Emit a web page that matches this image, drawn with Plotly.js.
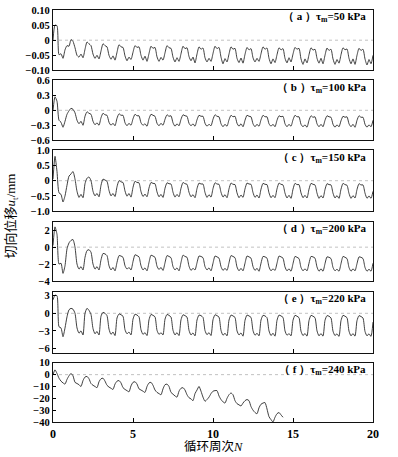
<!DOCTYPE html>
<html><head><meta charset="utf-8">
<script src="https://cdn.plot.ly/plotly-3.0.1.min.js"></script>
<style>html,body{margin:0;padding:0;background:#fff}#chart{width:398px;height:457px}</style>
</head><body><div id="chart"></div>
<script>
const sampleStep = 0.125;

// (a) tau_m = 50 kPa
const ua = [
 0.000, 0.050, 0.048, -0.048, -0.045, -0.060, -0.032, -0.018,
 -0.020, 0.002, -0.004, -0.025, -0.050, -0.056, -0.046, -0.058,
 -0.030, -0.006, -0.012, -0.018, -0.046, -0.060, -0.050, -0.062,
 -0.036, -0.012, -0.018, -0.022, -0.050, -0.063, -0.052, -0.066,
 -0.040, -0.015, -0.022, -0.024, -0.052, -0.068, -0.056, -0.064,
 -0.040, -0.018, -0.024, -0.022, -0.050, -0.066, -0.053, -0.070,
 -0.044, -0.020, -0.027, -0.024, -0.055, -0.070, -0.057, -0.066,
 -0.042, -0.018, -0.025, -0.027, -0.056, -0.072, -0.058, -0.070,
 -0.045, -0.020, -0.028, -0.025, -0.054, -0.068, -0.056, -0.075,
 -0.046, -0.022, -0.030, -0.026, -0.058, -0.072, -0.060, -0.070,
 -0.044, -0.020, -0.028, -0.024, -0.056, -0.078, -0.061, -0.072,
 -0.046, -0.022, -0.030, -0.027, -0.060, -0.074, -0.059, -0.076,
 -0.047, -0.024, -0.032, -0.028, -0.058, -0.072, -0.060, -0.070,
 -0.045, -0.022, -0.030, -0.026, -0.060, -0.078, -0.062, -0.074,
 -0.048, -0.025, -0.032, -0.028, -0.060, -0.075, -0.058, -0.072,
 -0.046, -0.024, -0.030, -0.027, -0.062, -0.080, -0.062, -0.075,
 -0.048, -0.025, -0.033, -0.030, -0.060, -0.076, -0.060, -0.078,
 -0.050, -0.026, -0.034, -0.030, -0.062, -0.080, -0.064, -0.076,
 -0.048, -0.025, -0.032, -0.029, -0.060, -0.078, -0.062, -0.080,
 -0.050, -0.027, -0.034, -0.030, -0.062, -0.082, -0.064, -0.078,
 -0.050
];

// (b) tau_m = 100 kPa
const ub = [
 0.00, 0.27, 0.18, -0.20, -0.24, -0.34, -0.22, -0.08,
 -0.01, 0.04, 0.02, -0.05, -0.20, -0.27, -0.22, -0.30,
 -0.12, -0.03, -0.06, -0.08, -0.22, -0.29, -0.25, -0.30,
 -0.15, -0.06, -0.09, -0.10, -0.24, -0.30, -0.26, -0.31,
 -0.16, -0.07, -0.10, -0.10, -0.25, -0.31, -0.26, -0.30,
 -0.17, -0.08, -0.11, -0.11, -0.25, -0.30, -0.27, -0.32,
 -0.17, -0.08, -0.10, -0.12, -0.26, -0.31, -0.26, -0.30,
 -0.18, -0.09, -0.12, -0.11, -0.25, -0.32, -0.27, -0.31,
 -0.18, -0.09, -0.11, -0.12, -0.26, -0.31, -0.27, -0.32,
 -0.19, -0.10, -0.12, -0.12, -0.26, -0.32, -0.28, -0.31,
 -0.18, -0.09, -0.12, -0.13, -0.27, -0.33, -0.28, -0.32,
 -0.19, -0.10, -0.13, -0.12, -0.26, -0.32, -0.27, -0.33,
 -0.20, -0.10, -0.12, -0.13, -0.27, -0.33, -0.28, -0.32,
 -0.19, -0.10, -0.13, -0.13, -0.27, -0.32, -0.28, -0.33,
 -0.20, -0.11, -0.13, -0.12, -0.27, -0.33, -0.28, -0.32,
 -0.19, -0.10, -0.13, -0.13, -0.28, -0.33, -0.29, -0.34,
 -0.20, -0.11, -0.14, -0.13, -0.27, -0.33, -0.28, -0.33,
 -0.20, -0.11, -0.13, -0.14, -0.28, -0.34, -0.29, -0.33,
 -0.21, -0.12, -0.14, -0.13, -0.27, -0.33, -0.28, -0.34,
 -0.20, -0.11, -0.14, -0.14, -0.28, -0.34, -0.29, -0.33,
 -0.20
];

// (c) tau_m = 150 kPa
const uc = [
 0.05, 0.80, 0.30, -0.40, -0.45, -0.70, -0.50, -0.15,
 0.15, 0.22, 0.30, 0.05, -0.35, -0.55, -0.45, -0.56,
 -0.10, 0.08, 0.12, 0.00, -0.35, -0.50, -0.42, -0.53,
 -0.15, 0.05, 0.02, -0.02, -0.32, -0.50, -0.42, -0.52,
 -0.20, 0.00, -0.04, -0.06, -0.34, -0.51, -0.42, -0.54,
 -0.22, -0.02, -0.06, -0.07, -0.36, -0.52, -0.44, -0.53,
 -0.24, -0.06, -0.09, -0.10, -0.37, -0.53, -0.45, -0.55,
 -0.25, -0.07, -0.10, -0.11, -0.38, -0.54, -0.45, -0.53,
 -0.25, -0.06, -0.10, -0.12, -0.38, -0.53, -0.46, -0.56,
 -0.26, -0.08, -0.11, -0.11, -0.39, -0.55, -0.46, -0.54,
 -0.26, -0.07, -0.11, -0.12, -0.38, -0.54, -0.46, -0.56,
 -0.27, -0.08, -0.12, -0.13, -0.40, -0.56, -0.47, -0.55,
 -0.27, -0.08, -0.11, -0.12, -0.39, -0.55, -0.47, -0.57,
 -0.28, -0.09, -0.12, -0.13, -0.40, -0.56, -0.48, -0.56,
 -0.27, -0.08, -0.12, -0.14, -0.41, -0.57, -0.48, -0.58,
 -0.28, -0.09, -0.13, -0.13, -0.40, -0.56, -0.48, -0.57,
 -0.28, -0.09, -0.12, -0.14, -0.41, -0.58, -0.49, -0.57,
 -0.29, -0.10, -0.13, -0.14, -0.41, -0.57, -0.49, -0.58,
 -0.28, -0.09, -0.13, -0.15, -0.42, -0.58, -0.49, -0.57,
 -0.29, -0.10, -0.14, -0.14, -0.41, -0.58, -0.50, -0.58,
 -0.35
];

// (d) tau_m = 200 kPa
const ud = [
 0.20, 2.40, 1.50, -2.00, -1.90, -3.10, -2.20, -0.20,
 0.50, 0.80, 0.90, 0.00, -2.00, -2.60, -2.30, -2.70,
 -1.20, -0.40, -0.30, -0.60, -2.00, -2.60, -2.30, -2.70,
 -1.50, -0.75, -0.80, -1.00, -2.20, -2.70, -2.40, -2.80,
 -1.80, -1.00, -1.05, -1.20, -2.20, -2.60, -2.40, -2.70,
 -1.70, -0.90, -1.00, -1.15, -2.20, -2.70, -2.45, -2.80,
 -1.80, -0.95, -1.05, -1.20, -2.25, -2.65, -2.40, -2.75,
 -1.85, -1.00, -1.10, -1.25, -2.30, -2.70, -2.45, -2.80,
 -1.80, -0.95, -1.10, -1.20, -2.25, -2.75, -2.50, -2.70,
 -1.85, -1.05, -1.10, -1.25, -2.30, -2.70, -2.45, -2.80,
 -1.90, -1.05, -1.15, -1.30, -2.30, -2.75, -2.50, -2.75,
 -1.85, -1.00, -1.10, -1.25, -2.35, -2.80, -2.50, -2.80,
 -1.90, -1.05, -1.15, -1.30, -2.30, -2.75, -2.50, -2.85,
 -1.90, -1.10, -1.15, -1.30, -2.35, -2.80, -2.55, -2.75,
 -1.90, -1.05, -1.15, -1.30, -2.35, -2.80, -2.55, -2.85,
 -1.95, -1.10, -1.20, -1.35, -2.40, -2.80, -2.55, -2.80,
 -1.90, -1.10, -1.15, -1.30, -2.35, -2.85, -2.55, -2.85,
 -1.95, -1.15, -1.20, -1.35, -2.40, -2.80, -2.60, -2.85,
 -1.95, -1.10, -1.20, -1.35, -2.40, -2.85, -2.55, -2.80,
 -1.95, -1.15, -1.20, -1.35, -2.40, -2.85, -2.60, -2.85,
 -1.90
];

// (e) tau_m = 220 kPa
const ue = [
 2.30, 3.10, 3.00, -2.30, -2.50, -4.00, -2.50, -0.60,
 0.60, 0.85, 0.70, 0.00, -2.50, -3.40, -3.00, -3.70,
 0.00, 0.85, 0.50, -0.20, -2.60, -3.50, -3.10, -3.70,
 -0.50, 0.17, 0.00, -0.40, -2.70, -3.60, -3.20, -3.80,
 -0.80, -0.10, -0.25, -0.50, -2.80, -3.50, -3.20, -3.70,
 -1.00, -0.15, -0.30, -0.60, -2.80, -3.60, -3.30, -3.80,
 -1.10, -0.20, -0.35, -0.60, -2.90, -3.60, -3.30, -3.70,
 -1.00, -0.20, -0.35, -0.65, -2.90, -3.70, -3.30, -3.80,
 -1.10, -0.25, -0.40, -0.65, -2.90, -3.70, -3.35, -3.85,
 -1.15, -0.30, -0.40, -0.70, -2.95, -3.65, -3.30, -3.80,
 -1.10, -0.25, -0.40, -0.65, -2.90, -3.75, -3.40, -3.85,
 -1.15, -0.30, -0.45, -0.70, -3.00, -3.70, -3.35, -3.90,
 -1.20, -0.30, -0.45, -0.70, -2.95, -3.75, -3.40, -3.85,
 -1.15, -0.35, -0.45, -0.75, -3.00, -3.80, -3.40, -3.90,
 -1.20, -0.30, -0.45, -0.70, -3.00, -3.75, -3.45, -3.85,
 -1.20, -0.35, -0.50, -0.75, -3.05, -3.80, -3.45, -3.90,
 -1.25, -0.35, -0.50, -0.75, -3.00, -3.85, -3.45, -3.90,
 -1.20, -0.40, -0.50, -0.80, -3.05, -3.80, -3.50, -3.95,
 -1.25, -0.35, -0.50, -0.75, -3.05, -3.85, -3.45, -3.90,
 -1.25, -0.40, -0.55, -0.80, -3.10, -3.85, -3.50, -3.95,
 -1.50
];

// (f) tau_m = 240 kPa (test ends near N = 14.4)
const uf = [
 0.0, 4.0, 1.0, -3.0, -5.5, -7.0, -8.0, -4.0,
 -1.0, 1.0, -1.0, -6.5, -7.5, -8.5, -10.0, -5.0,
 -2.0, -1.5, -3.5, -7.5, -9.0, -10.0, -11.0, -6.0,
 -3.5, -3.0, -5.5, -9.0, -10.5, -11.5, -12.5, -8.0,
 -5.5, -5.0, -7.0, -11.0, -12.5, -13.5, -14.5, -9.5,
 -6.5, -6.0, -8.0, -12.0, -13.0, -14.0, -15.0, -10.0,
 -7.0, -6.5, -9.0, -13.0, -15.0, -16.0, -17.0, -12.0,
 -8.5, -8.0, -10.0, -15.0, -16.5, -18.0, -19.0, -14.0,
 -11.5, -11.0, -13.0, -17.0, -19.5, -20.5, -22.0, -16.0,
 -13.0, -10.0, -14.0, -19.0, -22.5, -21.0, -19.0, -16.0,
 -14.0, -13.5, -13.5, -18.0, -21.0, -23.0, -24.0, -20.0,
 -17.0, -15.5, -17.0, -22.0, -24.5, -25.5, -26.5, -24.0,
 -22.0, -21.0, -22.0, -27.0, -30.0, -32.0, -33.0, -28.0,
 -25.0, -24.0, -23.6, -29.0, -35.5, -38.0, -40.0, -36.0,
 -33.0, -32.0, -34.0, -36.0
];

const series = [ua, ub, uc, ud, ue, uf];
const panelLabels = [
 '（ a ）τ<sub>m</sub>=50 kPa',
 '（ b ）τ<sub>m</sub>=100 kPa',
 '（ c ）τ<sub>m</sub>=150 kPa',
 '（ d ）τ<sub>m</sub>=200 kPa',
 '（ e ）τ<sub>m</sub>=220 kPa',
 '（ f ）τ<sub>m</sub>=240 kPa'
];
const yTickVals = [
 [0.10, 0.05, 0, -0.05, -0.10],
 [0.6, 0.3, 0, -0.3, -0.6],
 [1.0, 0.5, 0, -0.5, -1.0],
 [2, 0, -2, -4],
 [3, 0, -3, -6],
 [10, 0, -10, -20, -30, -40]
];
const yTickText = [
 ['0.10', '0.05', '0', '−0.05', '−0.10'],
 ['0.6', '0.3', '0', '−0.3', '−0.6'],
 ['1.0', '0.5', '0', '−0.5', '−1.0'],
 ['2', '0', '−2', '−4'],
 ['3', '0', '−3', '−6'],
 ['10', '0', '−10', '−20', '−30', '−40']
];
const xTickVals = [0, 5, 10, 15, 20];
const xTickText = ['0', '5', '10', '15', '20'];
const xTitle = '循环周次<i>N</i>';
const yTitle = '切向位移<i>u</i><sub>t</sub>/mm';

// axis configuration
const yRanges = [[-0.1, 0.1], [-0.6, 0.6], [-1.0, 1.0], [-4, 3], [-6.7, 3.7], [-40, 10]];
const domains = [[0.8534, 1.0], [0.6839, 0.8292], [0.5119, 0.6596], [0.3423, 0.4859], [0.1686, 0.3164], [0, 0.1437]];

const serif = 'Liberation Serif, Times New Roman, serif';
const traces = [];
const layout = {
  width: 398, height: 457,
  margin: {l: 53, r: 25, t: 9.5, b: 34.7},
  paper_bgcolor: '#fff', plot_bgcolor: '#fff',
  showlegend: false,
  annotations: [], shapes: []
};

series.forEach((ys, p) => {
  const n = p + 1;
  const xa = n === 1 ? 'x' : 'x' + n;
  const ya = n === 1 ? 'y' : 'y' + n;
  traces.push({
    x: ys.map((_, i) => i * sampleStep), y: ys,
    xaxis: xa, yaxis: ya, type: 'scatter', mode: 'lines',
    line: {color: '#2a2a2a', width: 0.9, shape: 'spline', smoothing: 0.6}, hoverinfo: 'skip'
  });
  const xKey = n === 1 ? 'xaxis' : 'xaxis' + n;
  const yKey = n === 1 ? 'yaxis' : 'yaxis' + n;
  layout[xKey] = {
    domain: [0, 1], anchor: ya, range: [0, 20],
    tickvals: xTickVals, ticktext: xTickText,
    showticklabels: p === 5, ticks: 'inside', ticklen: 4, tickwidth: 1, tickcolor: '#000',
    showline: true, linecolor: '#111', linewidth: 1.1, mirror: true,
    showgrid: false, zeroline: false,
    tickfont: {family: serif, size: 12, color: '#000', weight: 'bold'}
  };
  layout[yKey] = {
    domain: domains[p], anchor: xa, range: yRanges[p],
    tickvals: yTickVals[p], ticktext: yTickText[p],
    ticks: 'inside', ticklen: 3, tickwidth: 1, tickcolor: '#000',
    showline: true, linecolor: '#111', linewidth: 1.1, mirror: true,
    showgrid: false, zeroline: false,
    tickfont: {family: serif, size: 10.5, color: '#000', weight: 'bold'}
  };
  layout.shapes.push({
    type: 'line', xref: xa + ' domain', yref: ya,
    x0: 0, x1: 1, y0: 0, y1: 0,
    line: {color: '#999', width: 0.6, dash: 'dot'}, layer: 'below'
  });
  layout.annotations.push({
    text: panelLabels[p], xref: xa + ' domain', yref: ya + ' domain',
    x: 0.985, y: 0.88, xanchor: 'right', yanchor: 'middle', showarrow: false,
    font: {family: serif, size: 11, color: '#000', weight: 'bold'}
  });
});

layout.annotations.push({
  text: yTitle, xref: 'paper', yref: 'paper', x: -0.13, y: 0.5,
  xanchor: 'center', yanchor: 'middle', textangle: -90, showarrow: false,
  font: {family: 'Liberation Serif, Noto Sans CJK SC, serif', size: 13, color: '#000'}
});
layout.annotations.push({
  text: xTitle, xref: 'paper', yref: 'paper', x: 0.5, y: -0.06,
  xanchor: 'center', yanchor: 'middle', showarrow: false,
  font: {family: 'Liberation Serif, Noto Sans CJK SC, serif', size: 12.5, color: '#000'}
});

Plotly.newPlot('chart', traces, layout, {staticPlot: true, displayModeBar: false});
</script>
</body></html>
